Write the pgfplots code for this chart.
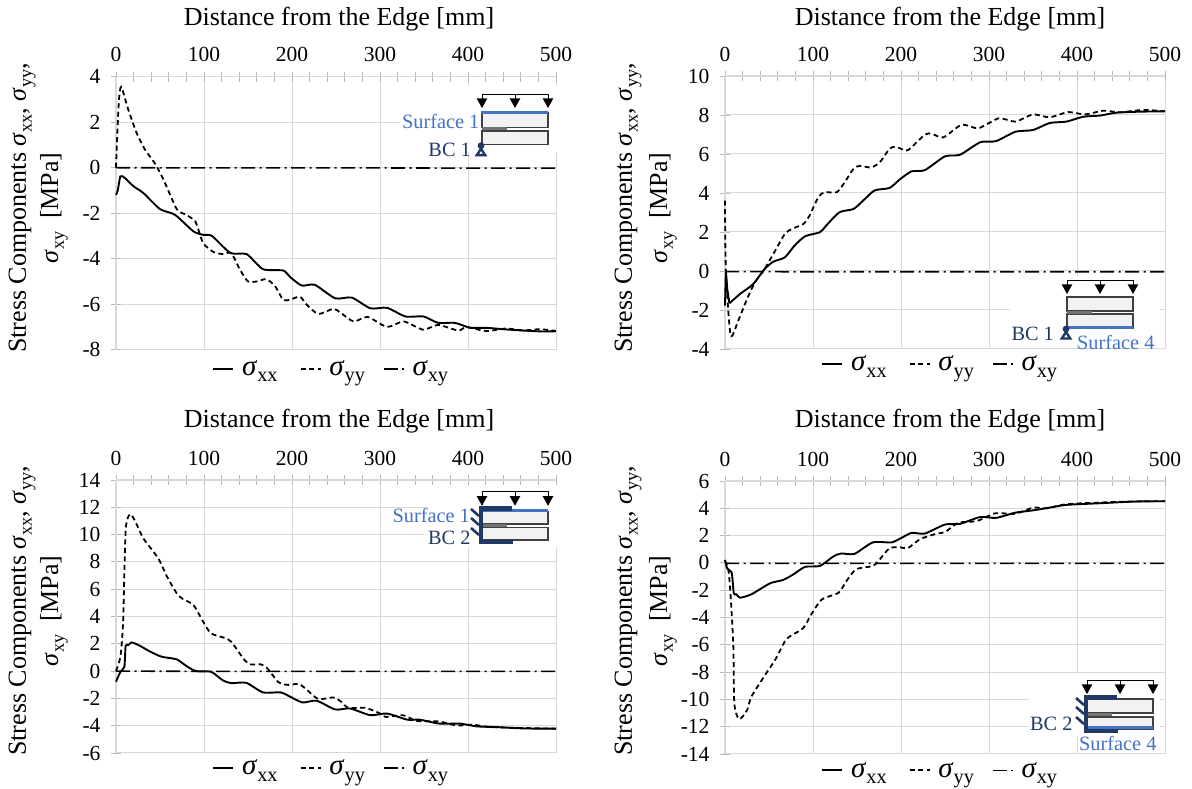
\documentclass[border=0pt]{standalone}
\usepackage{pgfplots}
\pgfplotsset{compat=1.18}
\usepackage{fontspec}
\setmainfont{Liberation Serif}
\definecolor{gridc}{HTML}{D9D9D9}
\definecolor{bluebar}{HTML}{4472C4}
\definecolor{darkb}{HTML}{1F3864}
\definecolor{boxf}{HTML}{F2F2F2}
\newcommand{\sg}[1]{\textit{σ}\raisebox{-0.22em}{\scalebox{0.7}{#1}}}
\newcommand{\tf}{\fontsize{21.5}{23}\selectfont}
\newcommand{\lf}{\fontsize{26}{28}\selectfont}
\newcommand{\legf}{\fontsize{29}{30}\selectfont}
\newcommand{\insf}{\fontsize{20.3}{22}\selectfont}
\pgfplotsset{
  panel/.style={
    scale only axis, width=440pt, height=273pt, clip=false,
    axis x line*=top, axis y line*=left,
    xmin=0, xmax=500, xtick={0,100,...,500},
    minor x tick num=4,
    tick align=center, major tick length=10pt, minor tick length=10pt,
    tick style={color=gridc!85!black, line width=0.9pt},
    axis line style={color=gridc, line width=1.2pt},
    grid=major, major grid style={color=gridc, line width=1pt},
    ticklabel style={font=\tf},
    /pgf/number format/assume math mode=true,
    xticklabel style={yshift=6pt},
    yticklabel style={xshift=-7pt},
    legend style={draw=none, fill=none, legend columns=3, font=\legf, anchor=center,
      /tikz/column 1/.style={column sep=6pt},
      /tikz/column 2/.style={column sep=20pt},
      /tikz/column 3/.style={column sep=6pt},
      /tikz/column 4/.style={column sep=16pt},
      /tikz/column 5/.style={column sep=6pt}},
    legend cell align=left,
    legend image code/.code={\draw[##1] (0pt,0pt) -- (20pt,0pt);},
  },
  xxs/.style={black, line width=1.9pt, smooth, tension=0.4, no markers},
  yys/.style={black, line width=1.8pt, dash pattern=on 5pt off 3.5pt, smooth, tension=0.4, no markers},
  xys/.style={black, line width=1.6pt, dash pattern=on 14pt off 4.5pt on 2pt off 4.5pt, no markers},
}
\newcommand{\beam}[6]{%
 \begin{scope}[shift={(#1,789-#2)}]
  \fill[boxf] (0,-#3) rectangle (66,-#4);
  \fill[boxf] (0,-#5) rectangle (66,-#6);
  \draw[black!75, line width=1.5pt] (0,-#3) rectangle (66,-#4);
  \draw[black!75, line width=1.5pt] (0,-#5) rectangle (66,-#6);
  \draw[black!55, line width=3pt] (0,-#4-1.2) -- (25,-#4-1.2);
  \draw[black, line width=0.9pt] (0,-13) -- (0,0) -- (66,0) -- (66,-13);
  \draw[black, line width=0.9pt] (33,0) -- (33,-5);
  \foreach \q in {0,33,66}{\fill[black] (\q-5.3,-4.5) -- (\q+5.3,-4.5) -- (\q,-14) -- cycle;}
 \end{scope}}
\newcommand{\roller}[2]{%
 \begin{scope}[shift={(#1,789-#2)}]
  \draw[darkb, line width=2.4pt, fill=white] (0,-3) -- (4.2,-9.5) -- (-4.2,-9.5) -- cycle;
  \fill[darkb] (0,0) circle (3.4);
 \end{scope}}
\newcommand{\clamp}[6]{%
 \begin{scope}[shift={(#1,789)}]
  \fill[darkb] (0,-#2) rectangle (#4,-#2-4.6);
  \fill[darkb] (0,-#3) rectangle (#5,-#3-3.8);
  \fill[darkb] (0,-#2) rectangle (4,-#3-3.8);
  \foreach \h in {3,12,22}{\draw[darkb, line width=2.6pt] (-8,-#2-\h-0) -- (0,-#2-\h-7);}
 \end{scope}}
\newcommand{\ylab}[3]{%
 \node[rotate=90, font=\lf, anchor=center] at (#1,789-#3) {Stress Components \sg{xx}, \sg{yy},};
 \node[rotate=90, font=\lf, anchor=center] at (#2,789-#3) {\sg{xy}\ \ [MPa]};}
\begin{document}
\begin{tikzpicture}[x=1pt,y=1pt]
\path[use as bounding box] (0,0) rectangle (1192,789);
% ---------- Panel A
\begin{axis}[panel, at={(116pt,439.3pt)}, anchor=south west,
  ymin=-8, ymax=4, ytick={-8,-6,...,4}, yticklabels={-8,-6,-4,-2,0,2,4},
  legend style={at={(0.489,-0.07)}}]
\addplot[xxs] coordinates {(0,-1.19)(2,-1.0)(5,-0.38)(10,-0.45)(20,-0.82)(31,-1.11)(50,-1.82)(67,-2.07)(88,-2.8)(99,-2.95)(109,-3.0)(130,-3.75)(148.5,-3.8)(167,-4.46)(190,-4.52)(198,-4.81)(211,-5.18)(226,-5.15)(249,-5.74)(268,-5.71)(289,-6.18)(308,-6.16)(329,-6.54)(349.5,-6.54)(366,-6.82)(385,-6.82)(402,-7.03)(421,-7.04)(440,-7.1)(463,-7.16)(485,-7.2)(500,-7.19)};
\addlegendentry{\sg{xx}}
\addplot[yys] coordinates {(0,0)(1.5,1.5)(3.4,3.0)(6,3.55)(14,2.55)(23.5,1.52)(33,0.79)(44,0.2)(54,-0.53)(69,-1.82)(78,-2.04)(90,-2.36)(99,-3.31)(111,-3.71)(122,-3.8)(131,-3.75)(141,-4.49)(150,-5.0)(160,-5.0)(171,-4.9)(181,-5.22)(190,-5.81)(198,-5.8)(209,-5.67)(217,-6.03)(230,-6.43)(247,-6.2)(255,-6.37)(270,-6.76)(286,-6.56)(308,-7.0)(327,-6.76)(349,-7.12)(366,-6.91)(389,-7.16)(398,-7.01)(421,-7.18)(443,-7.07)(463,-7.15)(482,-7.1)(500,-7.18)};
\addlegendentry{\sg{yy}}
\addplot[xys] coordinates {(0,0)(100,-0.01)(200,-0.01)(300,-0.01)(400,-0.02)(500,-0.02)};
\addlegendentry{\sg{xy}}
\end{axis}
% ---------- Panel B
\begin{axis}[panel, at={(725pt,440pt)}, anchor=south west,
  ymin=-4, ymax=10, ytick={-4,-2,...,10}, yticklabels={-4,-2,0,2,4,6,8,10},
  legend style={at={(0.489,-0.055)}}]
\addplot[black, line width=1.9pt, forget plot] coordinates {(0,-1.78)(1,0.05)(2.5,-0.9)(5,-1.66)};
\addplot[xxs] coordinates {(5,-1.66)(17,-1.18)(32,-0.67)(45,0.1)(55,0.48)(68,0.7)(79,1.3)(91,1.78)(108,1.99)(115,2.33)(130,3.01)(146,3.18)(157,3.61)(170,4.13)(187,4.26)(199,4.71)(212,5.11)(227,5.17)(250,5.88)(267,5.96)(290,6.6)(308,6.66)(330,7.14)(350,7.23)(369,7.59)(388,7.66)(407,7.91)(426,7.97)(445,8.12)(472,8.17)(500,8.19)};
\addlegendentry{\sg{xx}}
\addplot[yys] coordinates {(0,3.61)(1,0)(6.4,-3.29)(15,-2.55)(25,-1.44)(34,-0.58)(45,0.1)(57,1.04)(68,1.9)(76,2.16)(89,2.41)(96,2.84)(106,3.78)(113,4.04)(127,4.04)(136,4.55)(146,5.24)(153,5.39)(166,5.31)(176,5.58)(187,6.27)(193,6.37)(199,6.29)(208,6.2)(227,6.99)(235,7.04)(248,6.85)(269,7.5)(288,7.32)(311,7.83)(330,7.66)(350,8.03)(369,7.88)(390,8.15)(409,8.03)(430,8.22)(449,8.14)(475,8.26)(500,8.19)};
\addlegendentry{\sg{yy}}
\addplot[xys] coordinates {(0,-0.03)(100,-0.04)(200,-0.04)(300,-0.04)(400,-0.04)(500,-0.04)};
\addlegendentry{\sg{xy}}
\end{axis}
% ---------- Panel C
\begin{axis}[panel, at={(116pt,36pt)}, anchor=south west,
  ymin=-6, ymax=14, ytick={-6,-4,...,14}, yticklabels={-6,-4,-2,0,2,4,6,8,10,12,14},
  legend style={at={(0.489,-0.055)}}]
\addplot[xxs] coordinates {(0,-0.78)(5,-0.05)(9.5,0.32)(11,1.86)(14,1.91)(18,2.1)(27,1.86)(39,1.42)(52,1.05)(69,0.86)(80,0.37)(91,0)(108,-0.05)(121,-0.66)(131,-0.88)(148,-0.86)(167,-1.56)(187,-1.56)(198,-1.88)(212,-2.3)(228,-2.17)(249,-2.81)(266,-2.74)(289,-3.23)(308,-3.11)(331,-3.56)(345,-3.56)(368,-3.85)(391,-3.85)(410,-4.05)(432,-4.1)(463,-4.2)(500,-4.22)};
\addlegendentry{\sg{xx}}
\addplot[yys] coordinates {(0,0)(5,1.05)(8,3.5)(11,10.34)(16,11.5)(22,10.95)(31,9.73)(48,8.26)(58,6.92)(69,5.7)(76,5.28)(88,4.84)(99,3.62)(108,2.76)(123,2.44)(131,2.15)(146,0.81)(153,0.49)(165,0.49)(172,0.2)(184,-0.78)(191,-0.98)(198,-1.01)(208,-0.94)(217,-1.38)(230,-2.05)(247,-1.93)(256,-2.25)(264,-2.69)(283,-2.69)(298,-3.04)(307,-3.36)(326,-3.23)(342,-3.65)(366,-3.68)(387,-3.98)(406,-3.93)(425,-4.1)(463,-4.17)(500,-4.22)};
\addlegendentry{\sg{yy}}
\addplot[xys] coordinates {(0,0)(100,-0.02)(200,-0.02)(300,-0.02)(400,-0.02)(500,-0.02)};
\addlegendentry{\sg{xy}}
\end{axis}
% ---------- Panel D
\begin{axis}[panel, at={(725pt,35pt)}, anchor=south west,
  ymin=-14, ymax=6, ytick={-14,-12,...,6}, yticklabels={-14,-12,-10,-8,-6,-4,-2,0,2,4,6},
  legend style={at={(0.489,-0.06)}}]
\addplot[xxs] coordinates {(0,0.22)(2.6,-0.42)(7.6,-0.71)(10,-2.23)(13,-2.3)(17,-2.55)(30,-2.3)(51,-1.5)(66,-1.25)(78,-0.83)(91,-0.29)(108,-0.22)(123,0.47)(132,0.69)(147,0.66)(168,1.5)(189,1.5)(199,1.78)(212,2.2)(227,2.15)(250,2.81)(267,2.86)(290,3.36)(308,3.3)(330,3.68)(350,3.85)(369,4.05)(388,4.25)(426,4.37)(464,4.49)(500,4.52)};
\addlegendentry{\sg{xx}}
\addplot[yys] coordinates {(0,0.15)(4,-0.59)(6.4,-2.43)(9.5,-6.1)(10.6,-10.3)(16,-11.45)(25,-10.8)(30,-9.8)(47,-8.07)(57,-7.1)(68,-5.75)(74,-5.37)(89,-4.77)(98,-3.78)(110,-2.68)(129,-2.19)(138,-1.33)(149,-0.47)(168,-0.22)(176,0.27)(187,1.08)(199,1.14)(208,1.09)(222,1.75)(241,2.15)(250,2.25)(265,2.94)(286,3.06)(307,3.63)(330,3.6)(350,4.05)(365,4)(388,4.3)(426,4.42)(464,4.5)(500,4.52)};
\addlegendentry{\sg{yy}}
\addplot[xys] coordinates {(0,-0.03)(100,-0.04)(200,-0.04)(300,-0.04)(400,-0.04)(500,-0.04)};
\addlegendentry{\sg{xy}}
\end{axis}
% titles and y labels
\node[font=\lf] at (339,789-19) {Distance from the Edge [mm]};
\node[font=\lf] at (950,789-19) {Distance from the Edge [mm]};
\node[font=\lf] at (339,789-421) {Distance from the Edge [mm]};
\node[font=\lf] at (950,789-421) {Distance from the Edge [mm]};
\ylab{22}{54}{208}
\ylab{628}{663}{208}
\ylab{22}{54}{611}
\ylab{628}{663}{611}
% ---------- insets
\fill[white] (400,789-86) rectangle (560,789-152);
\beam{482}{94}{19}{33.5}{37}{50.7}
\fill[bluebar] (481,789-111) rectangle (548,789-114.5);
\roller{481}{145.7}
\node[font=\insf, text=bluebar, anchor=east, inner sep=0pt] at (479.5,789-121.5) {Surface 1};
\node[font=\insf, text=darkb, anchor=east, inner sep=0pt] at (471,789-150) {BC 1};
\fill[white] (1010,789-277) rectangle (1160,789-345);
\beam{1067}{280}{17}{31}{34}{48}
\fill[bluebar] (1067,789-326) rectangle (1133,789-329);
\roller{1066}{329}
\node[font=\insf, text=bluebar, anchor=west, inner sep=0pt] at (1077,789-342) {Surface 4};
\node[font=\insf, text=darkb, anchor=east, inner sep=0pt] at (1054,789-334) {BC 1};
\fill[white] (425,789-485) rectangle (560,789-547);
\beam{482}{491.7}{20}{32.3}{36}{48.3}
\fill[bluebar] (481,789-509.5) rectangle (548,789-512.5);
\clamp{479}{506}{540}{33}{34}{0}
\node[font=\insf, text=bluebar, anchor=east, inner sep=0pt] at (470,789-515) {Surface 1};
\node[font=\insf, text=darkb, anchor=east, inner sep=0pt] at (470.7,789-537.7) {BC 2};
\fill[white] (1029,789-674) rectangle (1160,789-737);
\beam{1087}{680}{19}{33}{37}{49}
\fill[bluebar] (1087,789-726.5) rectangle (1153,789-729.5);
\clamp{1084}{695}{729}{33}{34}{0}
\node[font=\insf, text=bluebar, anchor=west, inner sep=0pt] at (1079,789-743) {Surface 4};
\node[font=\insf, text=darkb, anchor=east, inner sep=0pt] at (1072.7,789-724) {BC 2};
\end{tikzpicture}
\end{document}
